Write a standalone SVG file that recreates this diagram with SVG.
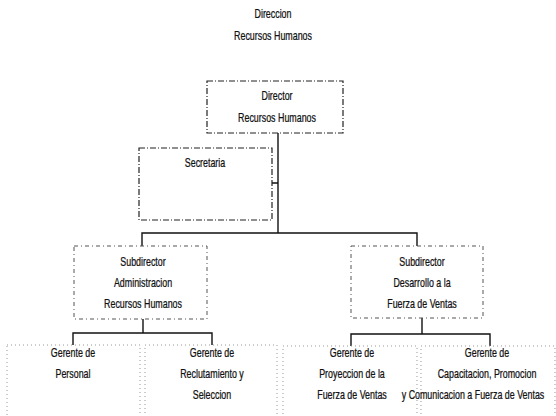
<svg xmlns="http://www.w3.org/2000/svg" width="556" height="416" viewBox="0 0 556 416">
<style>
text{font-family:"Liberation Sans",Arial,sans-serif;font-size:12px;fill:#111;text-anchor:middle;stroke:#111;stroke-width:0.25}
.b1{fill:#fff;stroke:#222;stroke-width:1.2;stroke-dasharray:6 2 1 2}
.b2{fill:#fff;stroke:#555;stroke-width:1;stroke-dasharray:4 3 1 3}
.b3{fill:#fff;stroke:#999;stroke-width:1;stroke-dasharray:1 3}
.c{fill:none;stroke:#111;stroke-width:1.4}
</style>
<rect width="556" height="416" fill="#fff"/>
<g id="title">
<text transform="translate(273,18) scale(0.74,1)">Direccion</text>
<text transform="translate(273,40) scale(0.74,1)">Recursos Humanos</text>
</g>
<g id="connectors">
<path class="c" d="M278 133V233M272 183H278M142 246V233H417V246"/>
<path class="c" d="M143 319V333M73 345V333H212V345"/>
<path class="c" d="M422 318V334M351 346V334H490V346"/>
</g>
<g id="director">
<rect class="b1" x="207" y="81" width="136" height="52"/>
<text transform="translate(277,100) scale(0.74,1)">Director</text>
<text transform="translate(277,122) scale(0.74,1)">Recursos Humanos</text>
</g>
<g id="secretaria">
<rect class="b1" x="139" y="148" width="133" height="72"/>
<text transform="translate(205,167) scale(0.74,1)">Secretaria</text>
</g>
<g id="subdirector-admin">
<rect class="b2" x="74" y="246" width="133" height="73"/>
<text transform="translate(143,266) scale(0.74,1)">Subdirector</text>
<text transform="translate(143,287) scale(0.74,1)">Administracion</text>
<text transform="translate(143,308) scale(0.74,1)">Recursos Humanos</text>
</g>
<g id="subdirector-desarrollo">
<rect class="b2" x="351" y="246" width="132" height="72"/>
<text transform="translate(422,266) scale(0.74,1)">Subdirector</text>
<text transform="translate(422,287) scale(0.74,1)">Desarrollo a la</text>
<text transform="translate(422,308) scale(0.74,1)">Fuerza de Ventas</text>
</g>
<g id="gerente-personal">
<rect class="b3" x="7" y="345" width="133" height="80"/>
<text transform="translate(73,357) scale(0.74,1)">Gerente de</text>
<text transform="translate(73,378) scale(0.74,1)">Personal</text>
</g>
<g id="gerente-reclutamiento">
<rect class="b3" x="145" y="345" width="132" height="80"/>
<text transform="translate(212,357) scale(0.74,1)">Gerente de</text>
<text transform="translate(212,378) scale(0.74,1)">Reclutamiento y</text>
<text transform="translate(212,399) scale(0.74,1)">Seleccion</text>
</g>
<g id="gerente-proyeccion">
<rect class="b3" x="283" y="346" width="134" height="80"/>
<text transform="translate(352,357) scale(0.74,1)">Gerente de</text>
<text transform="translate(352,378) scale(0.74,1)">Proyeccion de la</text>
<text transform="translate(352,399) scale(0.74,1)">Fuerza de Ventas</text>
</g>
<g id="gerente-capacitacion">
<rect class="b3" x="421" y="346" width="134" height="80"/>
<text transform="translate(487,357) scale(0.74,1)">Gerente de</text>
<text transform="translate(487,378) scale(0.74,1)">Capacitacion, Promocion</text>
<text transform="translate(473,399) scale(0.74,1)">y Comunicacion a Fuerza de Ventas</text>
</g>
</svg>
